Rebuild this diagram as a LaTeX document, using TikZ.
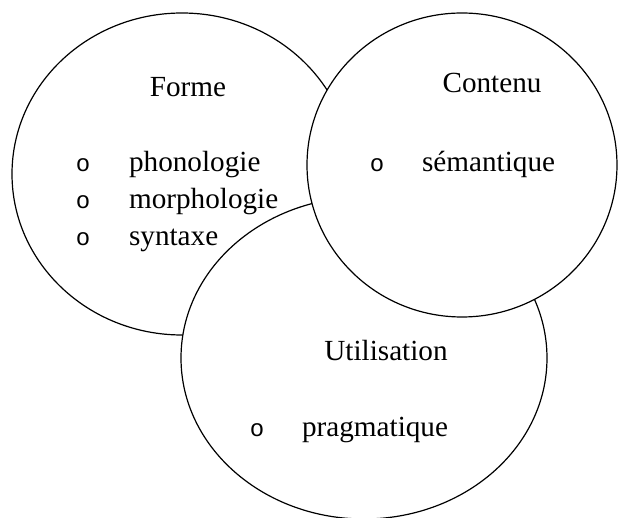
\documentclass[tikz,border=0pt]{standalone}
\usepackage{fontspec}
\setmainfont{Liberation Serif}
\newfontfamily\bulletfont{Liberation Mono}
\usetikzlibrary{shapes.geometric}
\tikzset{
    areacircle/.style={ellipse,draw,fill=white,line width=0.6pt,inner sep=0pt,outer sep=0pt}, % the three circles
    heading/.style={anchor=base,font=\fontsize{14.6}{18}\selectfont}, % title inside a circle
    entry/.style={anchor=base west,font=\fontsize{14.6}{18}\selectfont}, % the listed items
    bullet/.style={anchor=base,font=\bulletfont\fontsize{12}{15}\selectfont}, % the small o in front
}

\begin{document}
\begin{tikzpicture}[x=0.5pt,y=-0.5pt]
  \useasboundingbox (0,0) rectangle (618,518);

  % circles, back to front
  \node[areacircle,minimum width=170pt,minimum height=161pt] (forme) at (182,174) {};
  \node[areacircle,minimum width=183pt,minimum height=161pt] (usage) at (364,358) {};
  \node[areacircle,minimum width=155pt,minimum height=152pt] (contenu) at (462,165) {};

  % Forme
  \node[heading] (t_forme) at (188,97) {Forme};
  \node[bullet] (b_1) at (83,172) {o};
  \node[entry] (i_1) at (122,172) {phonologie};
  \node[bullet] (b_2) at (83,209) {o};
  \node[entry] (i_2) at (122,209) {morphologie};
  \node[bullet] (b_3) at (83,246) {o};
  \node[entry] (i_3) at (122,246) {syntaxe};

  % Contenu
  \node[heading] (t_contenu) at (492,93) {Contenu};
  \node[bullet] (b_4) at (377,172) {o};
  \node[entry] (i_4) at (415,172) {sémantique};

  % Utilisation
  \node[heading] (t_usage) at (386,361) {Utilisation};
  \node[bullet] (b_5) at (257,437) {o};
  \node[entry] (i_5) at (295,437) {pragmatique};
\end{tikzpicture}
\end{document}
